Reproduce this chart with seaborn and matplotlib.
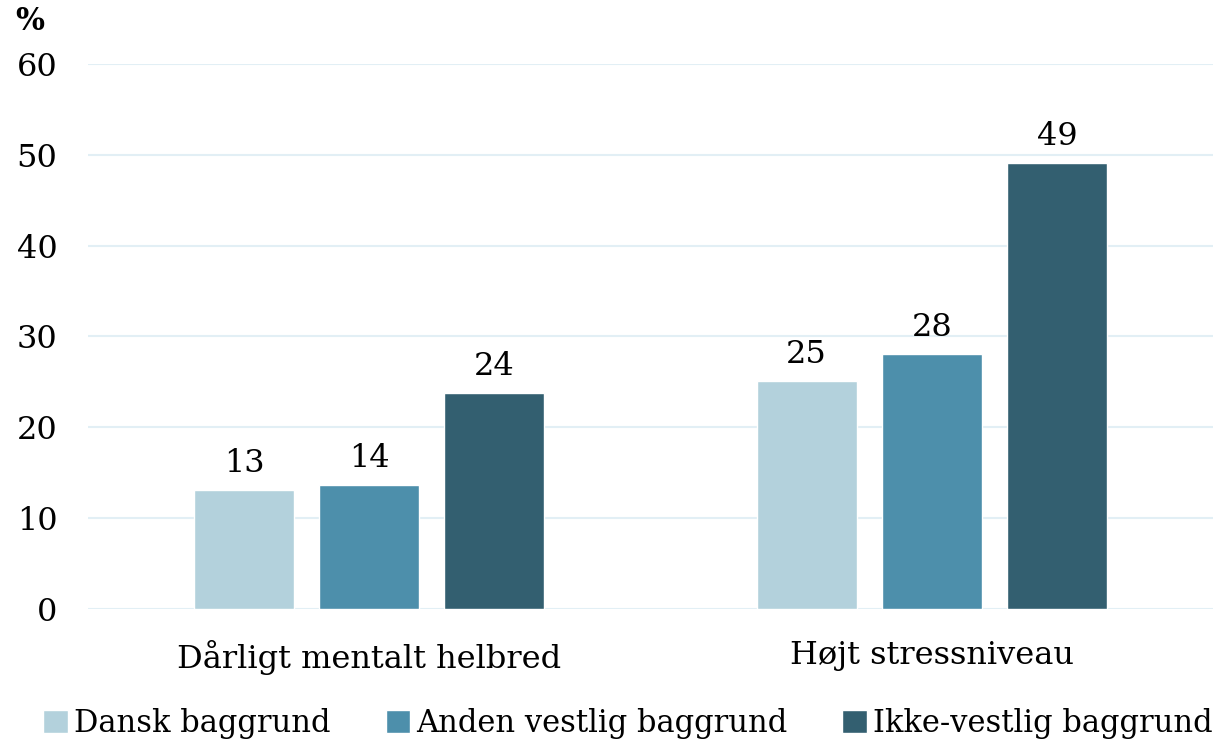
import numpy as np
import pandas as pd
import matplotlib
matplotlib.use("Agg")
import matplotlib.pyplot as plt
import seaborn as sns

# Data
kategorier = ["Dårligt mentalt helbred", "Højt stressniveau"]
grupper = ["Dansk baggrund", "Anden vestlig baggrund", "Ikke-vestlig baggrund"]
dansk = [13.1, 25.1]
anden_vestlig = [13.6, 28.1]
ikke_vestlig = [23.8, 49.1]
farver = ["#b3d1dc", "#4d8fab", "#335f70"]

df = pd.DataFrame({
    "Kategori": kategorier * 3,
    "Gruppe": [g for g in grupper for _ in kategorier],
    "Andel": dansk + anden_vestlig + ikke_vestlig,
})

sns.set_style("white")
plt.rcParams["font.family"] = ["DejaVu Serif"]
plt.rcParams["text.color"] = "black"
plt.rcParams["xtick.color"] = "black"
plt.rcParams["ytick.color"] = "black"

fig = plt.figure(figsize=(12.28, 7.45), dpi=100)
ax = fig.add_axes([88 / 1228, 1 - 609 / 745, 1125 / 1228, (609 - 64) / 745])

sns.barplot(data=df, x="Kategori", y="Andel", hue="Gruppe", palette=farver,
            width=0.667, gap=0.2, ax=ax, zorder=3, saturation=1)

for c in ax.containers:
    ax.bar_label(c, labels=[f"{v:.0f}" for v in c.datavalues], padding=8,
                 fontsize=23, color="black")

ax.set_ylim(0, 60)
ax.set_xlim(-0.5, 1.5)
ax.set_yticks(range(0, 61, 10))
ax.yaxis.grid(True, color="#e2eff5", linewidth=1.5, zorder=0)
ax.tick_params(axis="y", labelsize=23, length=0, pad=22)
ax.tick_params(axis="x", labelsize=23, length=0, pad=22)
for s in ax.spines.values():
    s.set_visible(False)
ax.set_xlabel("")
ax.set_ylabel("")
fig.text(15 / 1228, 1 - 22 / 745, "%", fontsize=22, fontweight="bold", va="center")

ax.legend(loc="upper center", bbox_to_anchor=(0.48, -0.16), ncol=3, frameon=False,
          fontsize=22, handlelength=0.8, handleheight=0.8, handletextpad=0.2,
          columnspacing=1.8, borderaxespad=0)

fig.savefig("out.png", dpi=100)
